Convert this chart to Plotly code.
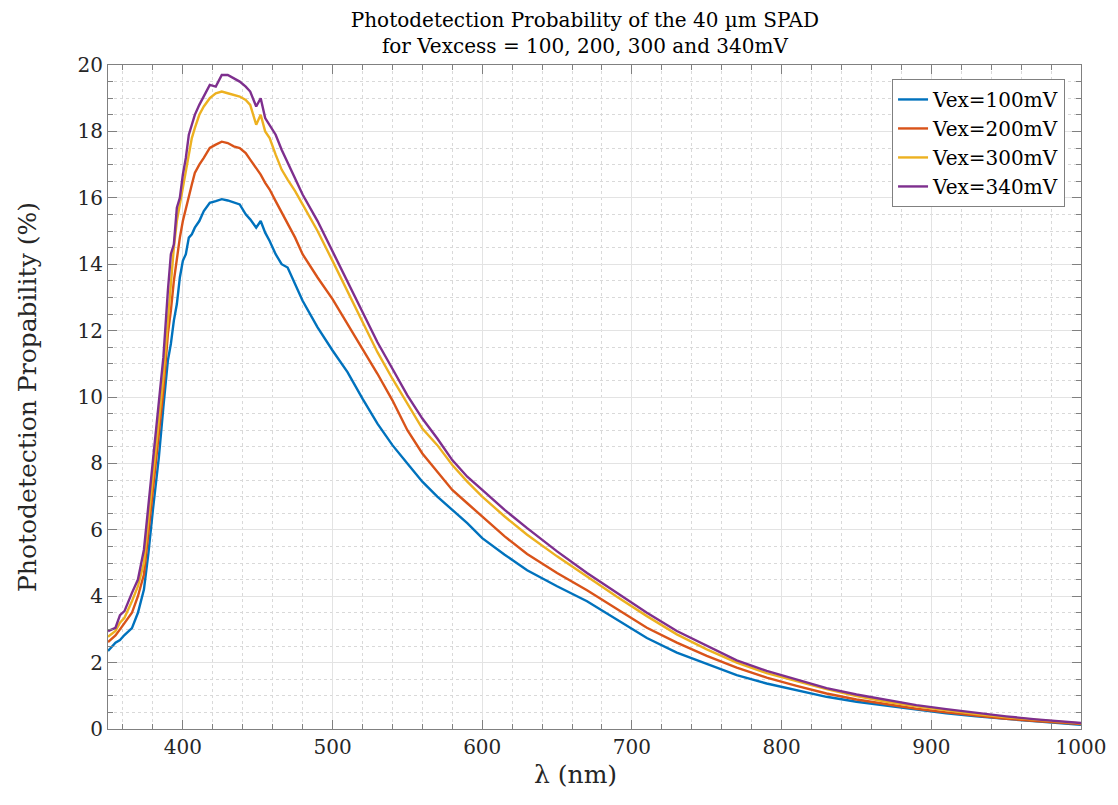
import plotly.graph_objects as go

wavelength_nm = [350, 355, 358, 361, 366, 370, 374, 377, 380, 384, 387, 390, 392, 394, 396, 398,
                 400, 402, 404, 406, 408, 411, 414, 418, 422, 426, 430, 434, 438, 442, 445, 449,
                 452, 455, 458, 462, 466, 470, 475, 480, 490, 500, 510, 520, 530, 540, 550, 560,
                 570, 580, 590, 600, 615, 630, 650, 670, 690, 710, 730, 750, 770, 790, 810, 830,
                 850, 870, 890, 910, 930, 950, 970, 1000]

pdp_100mV = [2.35, 2.6, 2.68, 2.83, 3.04, 3.5, 4.2, 5.3, 6.6, 8.2, 9.7, 11.1, 11.6, 12.3, 12.8, 13.6,
             14.1, 14.3, 14.8, 14.9, 15.1, 15.3, 15.6, 15.85, 15.9, 15.96, 15.92, 15.85, 15.8, 15.5, 15.35, 15.1,
             15.3, 14.95, 14.7, 14.3, 14.0, 13.9, 13.4, 12.9, 12.1, 11.4, 10.75, 9.95, 9.2, 8.55, 8.0, 7.45,
             7.0, 6.6, 6.2, 5.75, 5.25, 4.78, 4.3, 3.85, 3.3, 2.74, 2.3, 1.95, 1.62, 1.37, 1.17, 0.97,
             0.82, 0.7, 0.57, 0.47, 0.38, 0.3, 0.23, 0.13]

pdp_200mV = [2.62, 2.82, 3.0, 3.2, 3.5, 4.0, 4.65, 5.9, 7.2, 8.8, 10.2, 11.9, 12.6, 13.5, 14.2, 14.8,
             15.3, 15.7, 16.1, 16.4, 16.75, 17.0, 17.2, 17.5, 17.6, 17.69, 17.65, 17.55, 17.5, 17.35, 17.15, 16.9,
             16.7, 16.45, 16.25, 15.9, 15.55, 15.2, 14.8, 14.3, 13.6, 12.95, 12.2, 11.45, 10.7, 9.9, 9.0, 8.3,
             7.75, 7.2, 6.8, 6.4, 5.8, 5.27, 4.7, 4.18, 3.62, 3.05, 2.6, 2.2, 1.85, 1.55, 1.3, 1.07,
             0.89, 0.74, 0.61, 0.5, 0.4, 0.31, 0.24, 0.15]

pdp_300mV = [2.78, 2.95, 3.2, 3.35, 3.85, 4.3, 5.0, 6.3, 7.6, 9.2, 10.6, 12.3, 13.5, 14.5, 15.3, 15.8,
             16.3, 16.8, 17.4, 17.8, 18.1, 18.5, 18.75, 19.0, 19.15, 19.2, 19.15, 19.1, 19.05, 18.95, 18.8, 18.2,
             18.5, 18.0, 17.8, 17.3, 16.85, 16.55, 16.2, 15.8, 15.0, 14.1, 13.2, 12.25, 11.35, 10.55, 9.8, 9.05,
             8.55, 7.95, 7.45, 7.0, 6.4, 5.85, 5.2, 4.58, 3.98, 3.4, 2.85, 2.4, 2.0, 1.68, 1.43, 1.2,
             0.99, 0.82, 0.68, 0.56, 0.45, 0.35, 0.27, 0.17]

pdp_340mV = [2.95, 3.05, 3.43, 3.55, 4.1, 4.5, 5.4, 6.7, 8.0, 9.7, 11.2, 13.2, 14.3, 14.6, 15.7, 16.0,
             16.7, 17.2, 17.9, 18.2, 18.5, 18.8, 19.05, 19.4, 19.35, 19.7, 19.7, 19.6, 19.5, 19.35, 19.2, 18.75,
             19.0, 18.4, 18.2, 17.9, 17.45, 17.05, 16.6, 16.1, 15.3, 14.4, 13.5, 12.6, 11.65, 10.85, 10.05, 9.35,
             8.75, 8.1, 7.6, 7.2, 6.6, 6.05, 5.35, 4.7, 4.1, 3.5, 2.95, 2.5, 2.07, 1.75, 1.48, 1.23,
             1.04, 0.87, 0.72, 0.6, 0.48, 0.38, 0.29, 0.18]

series_names = ["Vex=100mV", "Vex=200mV", "Vex=300mV", "Vex=340mV"]
series_colors = ["#0072BD", "#D95319", "#EDB120", "#7E2F8E"]
series_values = [pdp_100mV, pdp_200mV, pdp_300mV, pdp_340mV]

x_ticks = [400, 500, 600, 700, 800, 900, 1000]
y_ticks = [0, 2, 4, 6, 8, 10, 12, 14, 16, 18, 20]

FONT = "DejaVu Serif"
TXT = "#262626"

fig = go.Figure()
for name, color, vals in zip(series_names, series_colors, series_values):
    fig.add_trace(go.Scatter(x=wavelength_nm, y=vals, mode="lines", name=name,
                             line=dict(color=color, width=2.4)))

axis_common = dict(
    showline=True, linecolor="#808080", linewidth=1, mirror="ticks",
    ticks="inside", tickcolor="#808080", ticklen=9, tickwidth=1,
    showgrid=True, gridcolor="#e3e3e3", gridwidth=1,
    zeroline=False, automargin=False,
    tickfont=dict(family=FONT, size=20, color=TXT),
)

fig.update_xaxes(
    range=[350, 1000], tickvals=x_ticks,
    minor=dict(dtick=20, tick0=0, ticks="inside", ticklen=5, tickcolor="#808080",
               showgrid=True, gridcolor="#d9d9d9", griddash="dot", gridwidth=1),
    **axis_common,
)
fig.update_yaxes(
    range=[0, 20], tickvals=y_ticks,
    minor=dict(dtick=0.5, tick0=0, ticks="inside", ticklen=5, tickcolor="#808080",
               showgrid=True, gridcolor="#d9d9d9", griddash="dot", gridwidth=1),
    title=dict(text="Photodetection Propability (%)", font=dict(family=FONT, size=25, color=TXT), standoff=33),
    **axis_common,
)

fig.add_annotation(text="λ (nm)", xref="paper", yref="paper", x=0.48, y=-0.069,
                   xanchor="center", yanchor="middle", showarrow=False,
                   font=dict(family=FONT, size=25, color=TXT))

fig.update_layout(
    width=1118, height=805,
    margin=dict(l=100, r=45, t=57, b=84, autoexpand=False),
    paper_bgcolor="white", plot_bgcolor="white",
    title=dict(text="Photodetection Probability of the 40 µm SPAD<br>for Vexcess = 100, 200, 300 and 340mV",
               xref="container", x=0.516, xanchor="center",
               yref="container", y=0.977, yanchor="middle", automargin=False,
               font=dict(family=FONT, size=20, color="black")),
    legend=dict(x=0.9836, xanchor="right", y=0.979, yanchor="top",
                bgcolor="white", bordercolor="#808080", borderwidth=1,
                font=dict(family=FONT, size=20, color="black"),
                tracegroupgap=0),
    showlegend=True,
)

fig.write_html("out.html")
